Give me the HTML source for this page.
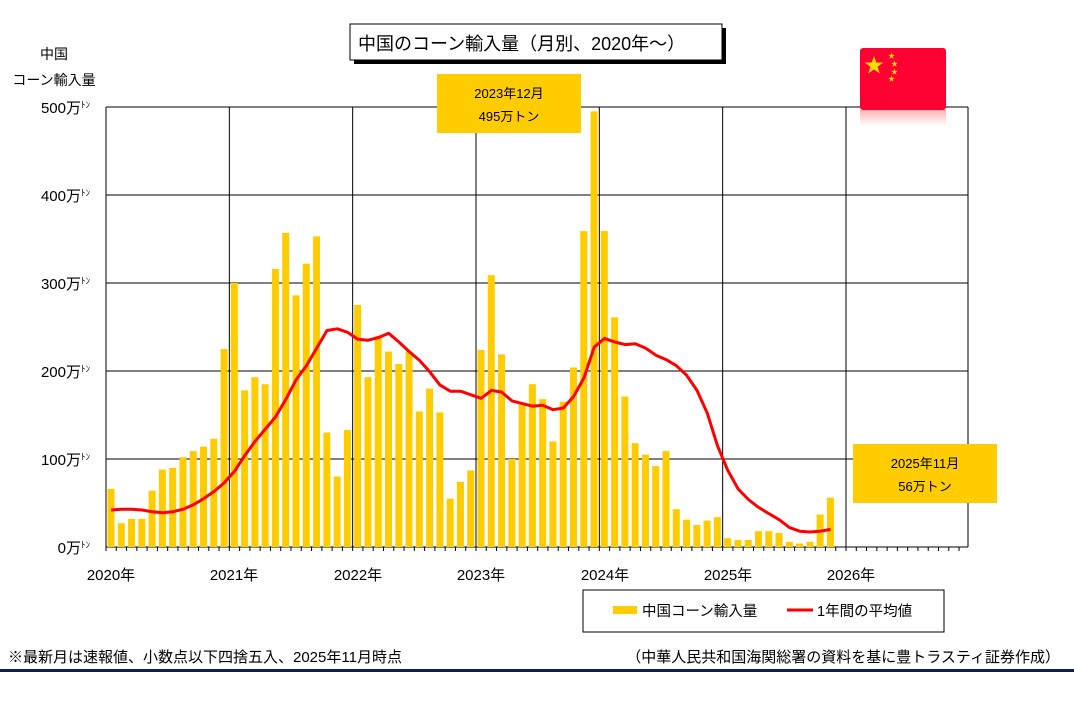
<!DOCTYPE html>
<html><head><meta charset="utf-8">
<style>
body{margin:0;background:#fff;width:1074px;height:707px;overflow:hidden;font-family:"Liberation Sans","Noto Sans CJK JP",sans-serif;}
</style></head>
<body>
<svg id="s" width="1074" height="707" xmlns="http://www.w3.org/2000/svg" font-family="Liberation Sans, Noto Sans CJK JP, sans-serif">
<rect x="0" y="0" width="1074" height="707" fill="#fff"/>
<g id="grid" stroke="#000" stroke-width="1"></g>
<g id="bars" fill="#FFCC00"></g>
<polyline id="avg" fill="none" stroke="#FF0000" stroke-width="3" stroke-linejoin="round"/>
<rect x="354" y="28" width="372" height="36" fill="#000"/>
<rect x="350" y="24" width="372" height="36" fill="#fff" stroke="#000" stroke-width="1"/>
<text x="358" y="50" font-size="18">中国のコーン輸入量（月別、2020年～）</text>
<text x="54" y="59" font-size="14" text-anchor="middle">中国</text>
<text x="54" y="85" font-size="14" text-anchor="middle">コーン輸入量</text>
<g font-size="15" text-anchor="end">
<text x="90" y="113">500万<tspan font-size="9" dy="-5">ﾄﾝ</tspan></text>
<text x="90" y="201">400万<tspan font-size="9" dy="-5">ﾄﾝ</tspan></text>
<text x="90" y="289">300万<tspan font-size="9" dy="-5">ﾄﾝ</tspan></text>
<text x="90" y="377">200万<tspan font-size="9" dy="-5">ﾄﾝ</tspan></text>
<text x="90" y="465">100万<tspan font-size="9" dy="-5">ﾄﾝ</tspan></text>
<text x="90" y="553">0万<tspan font-size="9" dy="-5">ﾄﾝ</tspan></text>
</g>
<g font-size="15" text-anchor="middle">
<text x="111" y="580">2020年</text><text x="234" y="580">2021年</text><text x="358" y="580">2022年</text>
<text x="481" y="580">2023年</text><text x="605" y="580">2024年</text><text x="728" y="580">2025年</text><text x="851" y="580">2026年</text>
</g>
<rect x="437" y="74" width="144" height="59" fill="#FFCC00"/>
<text x="509" y="98" font-size="13" text-anchor="middle">2023年12月</text>
<text x="509" y="121" font-size="13" text-anchor="middle">495万トン</text>
<rect x="853" y="444" width="144" height="59" fill="#FFCC00"/>
<text x="925" y="468" font-size="13" text-anchor="middle">2025年11月</text>
<text x="925" y="491" font-size="13" text-anchor="middle">56万トン</text>
<defs><linearGradient id="rf" x1="0" y1="0" x2="0" y2="1"><stop offset="0" stop-color="#FF8080"/><stop offset="1" stop-color="#fff"/></linearGradient></defs>
<rect x="860" y="48" width="86" height="62" rx="3" fill="#FF0033"/>
<rect x="860" y="110" width="86" height="16" fill="url(#rf)" opacity="0.6"/>
<text x="874" y="72" font-size="20" fill="#FFDD00" text-anchor="middle">★</text>
<text x="888" y="58" font-size="7" fill="#FFDD00">★</text>
<text x="891" y="66" font-size="7" fill="#FFDD00">★</text>
<text x="891" y="74" font-size="7" fill="#FFDD00">★</text>
<text x="888" y="81" font-size="7" fill="#FFDD00">★</text>
<rect x="583" y="590" width="361" height="42" fill="#fff" stroke="#000" stroke-width="1"/>
<rect x="613" y="606" width="24" height="8" fill="#FFCC00"/>
<text x="642" y="616" font-size="14.5">中国コーン輸入量</text>
<line x1="787" y1="610" x2="813" y2="610" stroke="#FF0000" stroke-width="3"/>
<text x="817" y="616" font-size="14.5">1年間の平均値</text>
<text x="8" y="662" font-size="15">※最新月は速報値、小数点以下四捨五入、2025年11月時点</text>
<text x="1060" y="662" font-size="15" text-anchor="end">（中華人民共和国海関総署の資料を基に豊トラスティ証券作成）</text>
<rect x="0" y="669" width="1074" height="3" fill="#0B1F5C"/>
</svg>
<script>
var ns="http://www.w3.org/2000/svg";
function el(p,t,a){var e=document.createElementNS(ns,t);for(var k in a)e.setAttribute(k,a[k]);document.getElementById(p).appendChild(e);}
var X0=106,X1=968,Y0=547,Y5=107,mw=(846-106)/72;
for(var v=1;v<=5;v++){var y=Y0-v*88;el("grid","line",{x1:X0,x2:X1,y1:y,y2:y});}
for(var i=0;i<=7;i++){var x=X0+i*mw*12;if(i==7)x=X1;el("grid","line",{x1:x,x2:x,y1:Y5,y2:Y0});}
el("grid","line",{x1:X0,x2:X0,y1:Y5,y2:Y0+4});
el("grid","line",{x1:X0,x2:X1,y1:Y0,y2:Y0});
for(var m=0;m<=84;m++){var x=X0+m*mw;if(x>X1)break;el("grid","line",{x1:x,x2:x,y1:Y0,y2:Y0+4});}
var b=[66,27,32,32,64,88,90,102,109,114,123,225,
300,178,193,185,316,357,286,322,353,130,80,133,
275,193,240,222,208,222,154,180,153,55,74,87,
224,309,219,100,163,185,168,120,165,204,359,495,
359,261,171,118,105,92,109,43,31,25,30,34,
10,8,8,18,18,16,6,4,6,37,56];
var a=[42,43,43,42,40,39,40,43,48,55,63,73,
86,104,120,134,148,168,190,206,226,246,248,244,
236,235,238,243,233,222,212,199,184,177,177,173,
169,178,176,166,163,160,161,156,158,171,192,227,
237,233,230,231,226,218,213,206,195,178,152,115,
87,66,54,45,38,31,22,18,17,18,20];
var k=0.88,pts=[];
for(var i=0;i<b.length;i++){var x=X0+i*mw+1.5;el("bars","rect",{x:x,y:Y0-b[i]*k,width:7,height:b[i]*k});}
for(var i=0;i<a.length;i++){pts.push((X0+(i+0.5)*mw).toFixed(1)+","+(Y0-a[i]*k).toFixed(1));}
document.getElementById("avg").setAttribute("points",pts.join(" "));
</script>
</body></html>
